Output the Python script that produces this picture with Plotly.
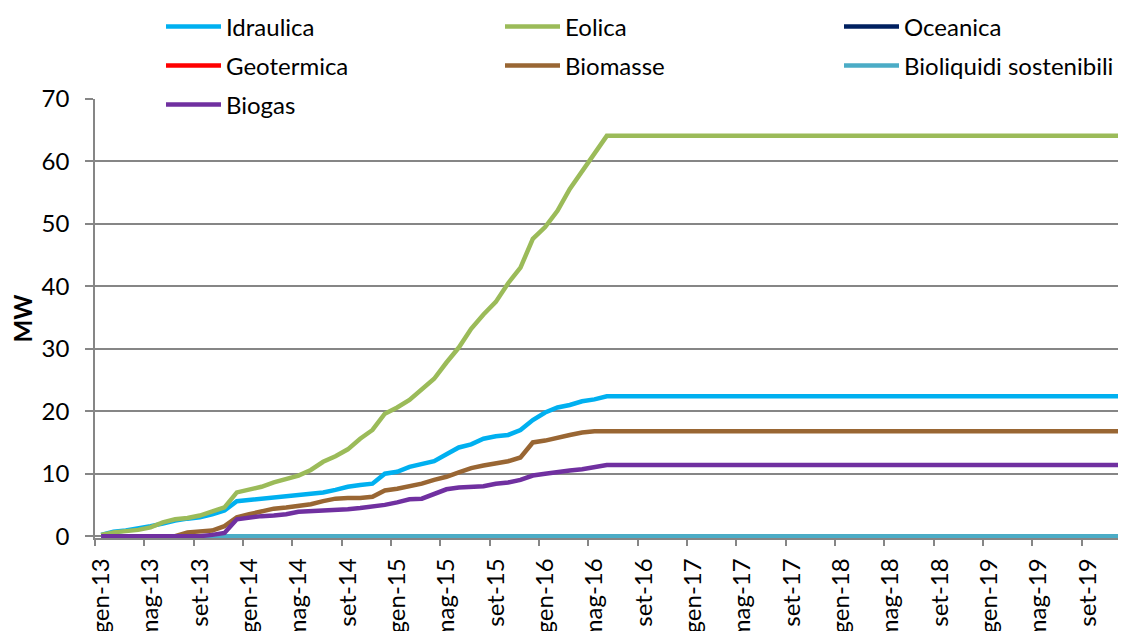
import plotly.graph_objects as go

mesi = ["gen", "feb", "mar", "apr", "mag", "giu", "lug", "ago", "set", "ott", "nov", "dic"]
months = [f"{m}-{y}" for y in range(13, 20) for m in mesi]

idraulica = [0.2, 0.7, 0.9, 1.2, 1.6, 2.0, 2.5, 2.8, 3.0, 3.5, 4.1, 5.6,
             5.8, 5.9, 6.1, 6.4, 6.6, 6.7, 7.0, 7.4, 7.9, 8.2, 8.4, 10.0,
             10.3, 11.1, 11.6, 12.0, 13.1, 14.2, 14.7, 15.6, 16.0, 16.2, 17.0, 18.6,
             19.8, 20.6, 21.0, 21.6, 21.9] + [22.4] * 43
eolica = [0.2, 0.6, 0.8, 1.0, 1.4, 2.2, 2.7, 2.9, 3.3, 3.9, 4.6, 7.0,
          7.4, 7.9, 8.6, 9.1, 9.7, 10.6, 11.9, 12.8, 13.9, 15.6, 17.0, 19.6,
          20.6, 21.8, 23.5, 25.2, 27.8, 30.2, 33.2, 35.5, 37.5, 40.5, 43.0, 47.6,
          49.5, 52.1, 55.6, 58.5, 61.3] + [64.1] * 43
oceanica = [0.0] * 84
geotermica = [0.0] * 84
biomasse = [0.0, 0.0, 0.0, 0.0, 0.0, 0.0, 0.0, 0.6, 0.8, 0.9, 1.6, 3.0,
            3.5, 4.0, 4.4, 4.6, 4.8, 5.1, 5.6, 6.0, 6.1, 6.1, 6.3, 7.3,
            7.6, 8.0, 8.4, 9.0, 9.5, 10.2, 10.9, 11.3, 11.7, 12.0, 12.6, 15.0,
            15.3, 15.8, 16.2, 16.6, 16.8] + [16.8] * 43
bioliquidi = [0.0] * 84
biogas = [0.0, 0.0, 0.0, 0.0, 0.0, 0.0, 0.0, 0.0, 0.0, 0.2, 0.5, 2.7,
          3.0, 3.2, 3.3, 3.5, 3.9, 4.0, 4.0, 4.1, 4.3, 4.5, 4.7, 5.0,
          5.4, 5.9, 6.0, 6.8, 7.5, 7.8, 7.9, 8.0, 8.4, 8.6, 9.0, 9.7,
          10.0, 10.3, 10.5, 10.7, 11.1] + [11.4] * 43

series = [
    ("Idraulica", idraulica, "#00B0F0"),
    ("Eolica", eolica, "#9BBB59"),
    ("Oceanica", oceanica, "#002060"),
    ("Geotermica", geotermica, "#FF0000"),
    ("Biomasse", biomasse, "#996633"),
    ("Bioliquidi sostenibili", bioliquidi, "#4BACC6"),
    ("Biogas", biogas, "#7030A0"),
]
# legend grid (figure pixels): 3 columns, rows filled left to right
legend_cols_px = [153, 492, 831]
legend_rows_px = [19, 58, 97]

W, H = 1126, 631
FONT = "Lato, 'Open Sans', sans-serif"
fig = go.Figure()
legends = {}
for k, (name, vals, color) in enumerate(series):
    lg = "legend" if k == 0 else f"legend{k + 1}"
    fig.add_trace(go.Scatter(
        x=months, y=vals, name=name, mode="lines",
        line=dict(color=color, width=4.5), legend=lg, showlegend=True,
    ))
    col, row = k % 3, k // 3
    legends[lg] = dict(
        orientation="h", xref="container", yref="container",
        x=legend_cols_px[col] / W, y=1 - legend_rows_px[row] / H,
        xanchor="left", yanchor="middle", bgcolor="white",
        font=dict(family=FONT, size=24, color="black"),
        itemwidth=55, entrywidthmode="pixels",
        entrywidth=(900 if name == "Biogas" else 0),
        visible=True,
    )

fig.update_layout(
    width=W, height=H, showlegend=True,
    margin=dict(l=87, r=8, t=91, b=101, autoexpand=False),
    paper_bgcolor="white", plot_bgcolor="white",
    font=dict(family=FONT, size=24, color="black"),
    xaxis=dict(
        type="category", categoryorder="array", categoryarray=months,
        range=[-0.5, 83.1], dtick=4, tickson="boundaries",
        ticks="outside", ticklen=6, tickcolor="#868686", tickwidth=1.5,
        tickangle=-90, showgrid=False, showline=True, linecolor="#868686",
        linewidth=1.5, ticklabelstandoff=9,
        tickfont=dict(family=FONT, size=24, color="black"),
    ),
    yaxis=dict(
        range=[-0.3, 70], tickvals=[0, 10, 20, 30, 40, 50, 60, 70],
        ticks="outside", ticklen=8, tickcolor="#868686", tickwidth=1.5,
        showgrid=True, gridcolor="#868686", gridwidth=1.5, zeroline=False,
        showline=True, linecolor="#868686", linewidth=1.5,
        ticklabelstandoff=11,
        tickfont=dict(family=FONT, size=24, color="black"),
        title=dict(text="<b>MW</b>", standoff=30,
                   font=dict(family=FONT, size=24, color="black")),
    ),
    **legends,
)

fig.write_html("out.html")
